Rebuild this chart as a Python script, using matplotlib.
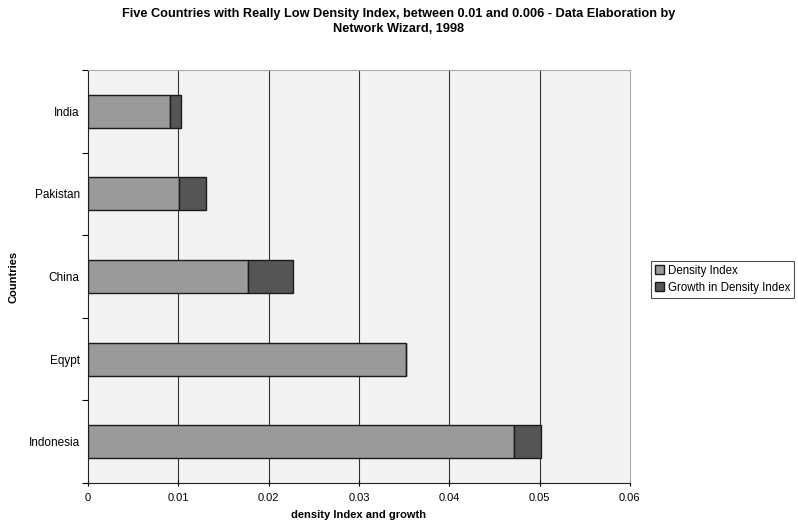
import matplotlib
matplotlib.use('Agg')
import matplotlib.pyplot as plt
import numpy as np

plt.rcParams['font.family'] = ['Liberation Sans', 'DejaVu Sans']

countries = ["Indonesia", "Eqypt", "China", "Pakistan", "India"]
density_index = [0.0472, 0.0352, 0.0177, 0.0101, 0.0091]
density_growth = [0.0030, 0.0, 0.0050, 0.0030, 0.0012]
x_ticks = [0, 0.01, 0.02, 0.03, 0.04, 0.05, 0.06]
x_tick_labels = ["0", "0.01", "0.02", "0.03", "0.04", "0.05", "0.06"]

fig = plt.figure(figsize=(7.98, 5.25), dpi=100)
ax = fig.add_axes([0.1103, 0.08, 0.679, 0.7867])
ax.set_facecolor("#f3f3f3")

y = np.arange(len(countries))
ax.barh(y, density_index, height=0.4, color="#9a9a9a", edgecolor="#1a1a1a",
        linewidth=1.0, label="Density Index", zorder=3)
ax.barh(y, density_growth, left=density_index, height=0.4, color="#555555",
        edgecolor="#1a1a1a", linewidth=1.0, label="Growth in Density Index", zorder=3)

ax.set_xlim(0, 0.06)
ax.set_ylim(-0.5, len(countries) - 0.5)
ax.set_xticks(x_ticks)
ax.set_xticklabels(x_tick_labels, fontsize=8)
ax.set_yticks(y)
ax.set_yticklabels(countries, fontsize=8.5)
ax.tick_params(axis='y', length=0, pad=6)
ax.set_yticks(np.arange(-0.5, len(countries)), minor=True)
ax.tick_params(axis='y', which='minor', length=4, width=0.8, direction='out')
ax.tick_params(axis='x', length=5, width=0.8, direction='inout', pad=5)

for xv in x_ticks[1:-1]:
    ax.axvline(xv, color="#333333", linewidth=0.8, zorder=1)

for side in ["top", "right"]:
    ax.spines[side].set_color("#aaaaaa")
    ax.spines[side].set_linewidth(0.8)
ax.spines["left"].set_color("#222222")
ax.spines["bottom"].set_color("#222222")

ax.set_xlabel("density Index and growth", fontsize=8, fontweight="bold", labelpad=5)
ax.set_ylabel("Countries", fontsize=8, fontweight="bold")
ax.yaxis.set_label_coords(-0.128, 0.5)

fig.suptitle("Five Countries with Really Low Density Index, between 0.01 and 0.006 - Data Elaboration by\nNetwork Wizard, 1998",
             fontsize=9.2, fontweight="bold", y=0.985, linespacing=1.3)

leg = fig.legend(loc="center left", bbox_to_anchor=(0.816, 0.468), fontsize=8.3,
                 frameon=True, fancybox=False, edgecolor="#222222",
                 handlelength=0.8, handleheight=0.8, handletextpad=0.3,
                 borderpad=0.35, labelspacing=0.45, borderaxespad=0)
leg.get_frame().set_linewidth(0.8)

fig.savefig("out.png", dpi=100, facecolor="white")
